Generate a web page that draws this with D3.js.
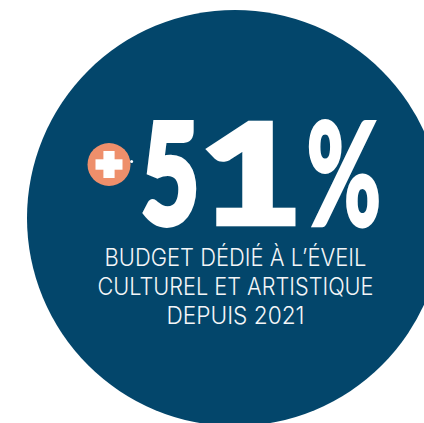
<!DOCTYPE html>
<meta charset="utf-8">
<html>
<head>
<style>
  body { margin: 0; background: #fff; }
  svg { display: block; }
</style>
</head>
<body>
<div id="badge"></div>
<script src="https://d3js.org/d3.v7.min.js"></script>
<script>
  // figures shown in the badge
  var sign = "+";
  var value = 51;
  var unit = "%";
  var captionLines = ["BUDGET DÉDIÉ À L’ÉVEIL", "CULTUREL ET ARTISTIQUE", "DEPUIS 2021"];

  var width = 424, height = 423;
  var navy = "#03466b", orange = "#ee8f6b";

  var svg = d3.select("#badge").append("svg")
      .attr("width", width)
      .attr("height", height);

  // big disc, partly cut on the right side
  svg.append("circle")
      .attr("cx", 235).attr("cy", 218).attr("r", 208)
      .attr("fill", navy);

  // orange plus badge
  var plus = svg.append("g").attr("transform", "translate(109,164.5)");
  plus.append("circle").attr("r", 21.5).attr("fill", orange);
  plus.append("rect").attr("x", -13.5).attr("y", -5.2).attr("width", 27).attr("height", 10.4).attr("fill", "#fff");
  plus.append("rect").attr("x", -5.6).attr("y", -13.5).attr("width", 11.2).attr("height", 27).attr("fill", "#fff");
  plus.append("title").text(sign);
  svg.append("circle").attr("cx", 131.6).attr("cy", 161.5).attr("r", 1.5).attr("fill", "#fff");

  // measure ink box of a string so it can be fitted to the box seen in the picture
  var ctx = document.createElement("canvas").getContext("2d");
  function ink(str, font) {
    ctx.font = font;
    var m = ctx.measureText(str);
    return { left: m.actualBoundingBoxLeft, right: m.actualBoundingBoxRight, ascent: m.actualBoundingBoxAscent };
  }

  var bigFont = "900 100px Lato, 'Noto Sans', sans-serif";
  var glyphs = String(value).split("").concat([unit]);
  // ink boxes [x0, x1, top, bottom]
  var boxes = [[141.7, 196.7, 120.7, 226.5], [205, 296.7, 120.7, 226.5], [308, 380, 119.5, 227]];
  var thick = [5, 5, 2.5]; // extra stroke to get the heavy look

  var big = svg.append("g");
  glyphs.forEach(function(g, i) {
    var b = boxes[i], m = ink(g, bigFont), h = thick[i] / 2;
    var sx = (b[1] - b[0] - 2 * h) / (m.left + m.right);
    var sy = (b[3] - b[2] - 2 * h) / m.ascent;
    big.append("text")
        .attr("transform", "translate(" + (b[0] + h) + "," + (b[3] - h) + ") scale(" + sx + "," + sy + ")")
        .attr("x", m.left)
        .attr("y", 0)
        .style("font", bigFont)
        .attr("fill", "#fff")
        .attr("stroke", "#fff")
        .attr("stroke-width", thick[i])
        .attr("stroke-linejoin", "miter")
        .attr("vector-effect", "non-scaling-stroke")
        .text(g);
  });

  // caption
  var capFont = "300 23.5px Inter, 'Open Sans', sans-serif";
  var capWidths = [262, 276, 138];
  var baselines = [265.7, 295, 324.2];
  svg.append("g").selectAll("text")
    .data(captionLines)
    .join("text")
      .attr("x", function(d, i) { return 235.5 - capWidths[i] / 2; })
      .attr("y", function(d, i) { return baselines[i]; })
      .attr("textLength", function(d, i) { return capWidths[i]; })
      .attr("lengthAdjust", "spacingAndGlyphs")
      .style("font", capFont)
      .attr("fill", "#f4f6f8")
      .text(function(d) { return d; });
</script>
</body>
</html>
